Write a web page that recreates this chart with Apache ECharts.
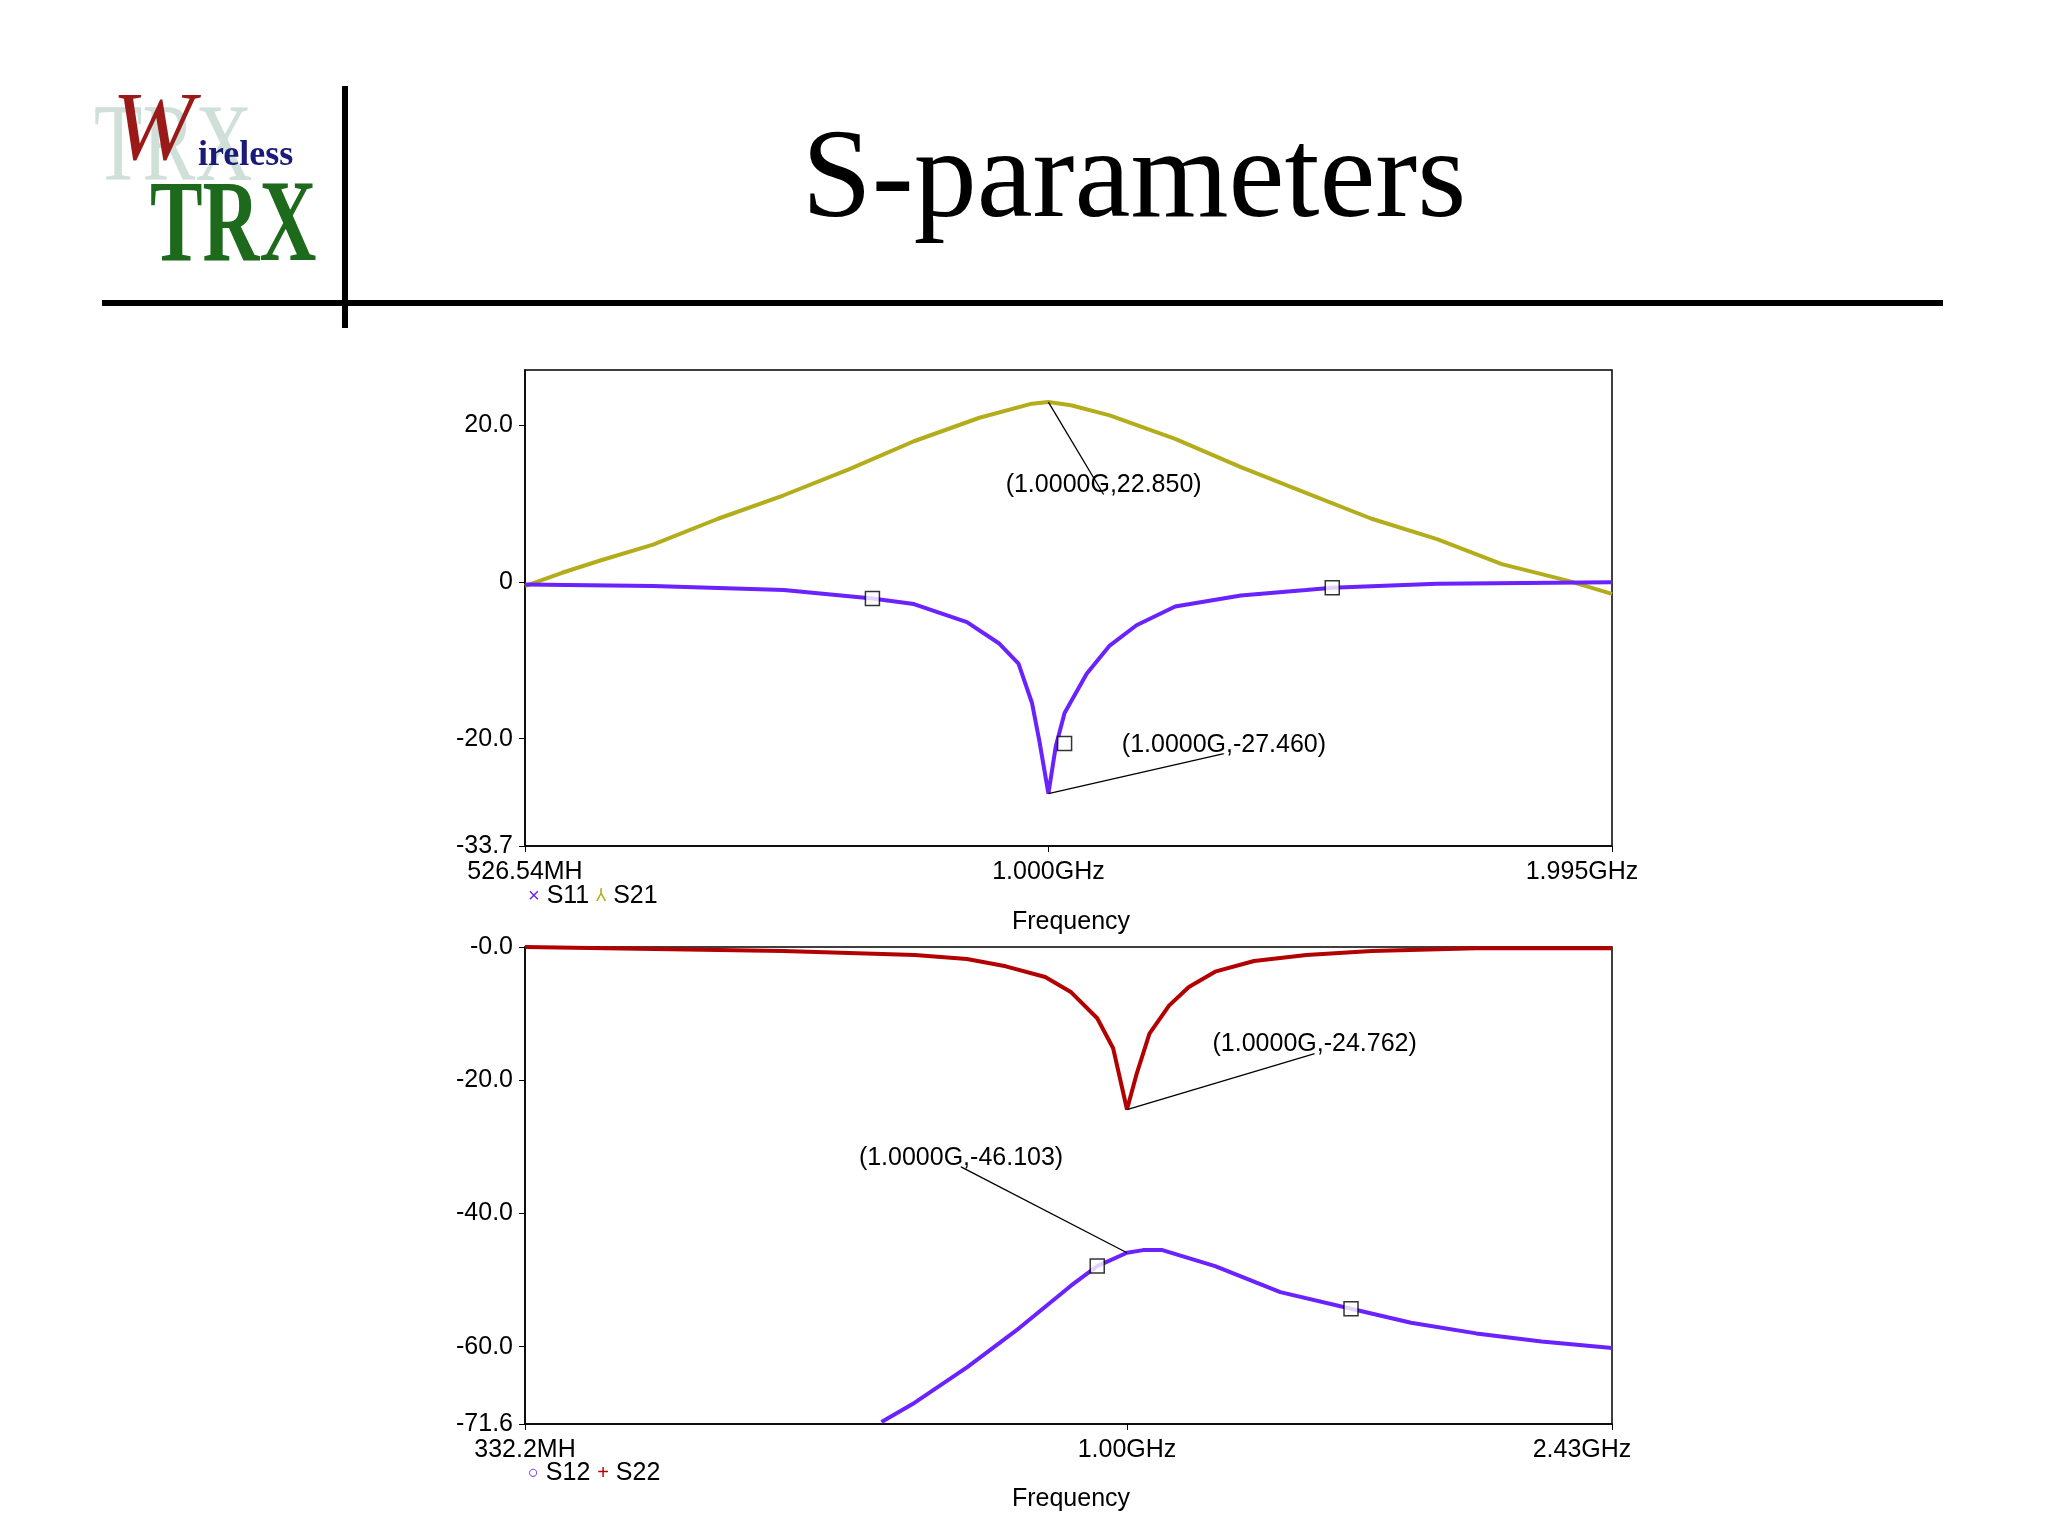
<!DOCTYPE html>
<html><head><meta charset="utf-8">
<script src="https://cdn.jsdelivr.net/npm/echarts@6/dist/echarts.min.js"></script>
<style>html,body{margin:0;background:#fff}#c{width:2048px;height:1536px}</style>
</head><body><div id="c"></div>
<script>
// Top plot (MHz, dB)
const topXTicks=[526.54,1000,1995], topXLabels=['526.54MH','1.000GHz','1.995GHz'];
const topYTicks=[-33.7,-20,0,20], topYLabels=['-33.7','-20.0','0','20.0'];
const s21=[[526.54,-0.5],[551,1.2],[578,2.8],[616,4.8],[667,8.1],[723,11.1],[783,14.4],[848,18],[919,21],[980,22.8],[1000,23],[1028,22.6],[1078,21.3],[1168,18.3],[1266,14.7],[1371,11.4],[1486,8.1],[1610,5.5],[1743,2.3],[1889,0.2],[1995,-1.5]];
const s11=[[526.54,-0.3],[616,-0.5],[723,-1],[806,-2.1],[848,-2.8],[905,-5.1],[941,-7.8],[964,-10.4],[980,-15.4],[989,-20.3],[1000,-27],[1009,-21],[1020,-16.7],[1048,-11.7],[1078,-8.1],[1114,-5.5],[1168,-3.1],[1266,-1.7],[1371,-1],[1416,-0.7],[1610,-0.2],[1995,0]];
const s11Markers=[[806,-2.1],[1020,-20.6],[1416,-0.7]];
// Bottom plot
const botXTicks=[332.2,1000,2430], botXLabels=['332.2MH','1.00GHz','2.43GHz'];
const botYTicks=[-71.6,-60,-40,-20,0], botYLabels=['-71.6','-60.0','-40.0','-20.0','-0.0'];
const s22=[[332.2,0],[533,-0.6],[678,-1.2],[746,-1.8],[801,-2.9],[861,-4.5],[903,-6.8],[947,-10.7],[975,-15.2],[1000,-24.4],[1018,-19],[1042,-13],[1080,-8.8],[1120,-6],[1175,-3.7],[1262,-2.1],[1389,-1.2],[1565,-0.6],[1895,-0.2],[2430,-0.2]];
const s12=[[638,-71.3],[678,-68.4],[746,-63.1],[821,-57.2],[903,-50.8],[947,-47.9],[1000,-45.9],[1030,-45.5],[1067,-45.5],[1175,-47.9],[1324,-51.8],[1507,-54.3],[1682,-56.4],[1895,-58],[2136,-59.2],[2430,-60.2]];
const s12Markers=[[947,-47.9],[1507,-54.3]];

const PURPLE='#6a22ff', OLIVE='#b3ad1c', RED='#b30000';
const font='Liberation Sans, Arial, sans-serif';
function xAxis(i,min,max,ticks,labels){return {type:'log',logBase:10,gridIndex:i,min,max,
  axisLine:{onZero:false,lineStyle:{color:'#000',width:1.5}},
  axisTick:{customValues:ticks,length:6,lineStyle:{color:'#000'}},
  axisLabel:{customValues:ticks,color:'#000',fontSize:25,fontFamily:font,margin:14,
    formatter:v=>{let k=ticks.findIndex(t=>Math.abs(t-v)/t<1e-3);return k>=0?(k==ticks.length-1?'{r|'+labels[k]+'}':labels[k]):'';},
    rich:{r:{fontSize:25,fontFamily:font,color:'#000',padding:[0,0,0,-60]}}},
  splitLine:{show:false}};}
function yAxis(i,min,max,ticks,labels){return {type:'value',gridIndex:i,min,max,
  axisLine:{lineStyle:{color:'#000',width:1.5}},
  axisTick:{customValues:ticks,length:6,lineStyle:{color:'#000'}},
  axisLabel:{customValues:ticks,color:'#000',fontSize:25,fontFamily:font,margin:12,
    formatter:v=>{let k=ticks.findIndex(t=>Math.abs(t-v)<1e-3);return k>=0?labels[k]:'';}},
  splitLine:{show:false}};}
function ann(xi,pt,anchor,text){return {type:'line',xAxisIndex:xi,yAxisIndex:xi,data:[],silent:true,
  markLine:{symbol:'none',silent:true,lineStyle:{color:'#000',width:1.3,type:'solid'},label:{show:false},
    data:[[{coord:pt},{coord:anchor}]]},
  markPoint:{symbol:'circle',symbolSize:1,data:[{coord:anchor}],
    label:{show:true,formatter:text,color:'#000',fontSize:25,fontFamily:font,position:'top',distance:-4}}};}
function markers(xi,data){return {type:'scatter',xAxisIndex:xi,yAxisIndex:xi,data,symbol:'rect',symbolSize:14,
  itemStyle:{color:'#fff',borderColor:'#000',borderWidth:1.5},z:5};}
const ch=echarts.init(document.getElementById('c'));
ch.setOption({backgroundColor:'#fff',animation:false,
 grid:[{left:525,right:436,top:370,height:476,show:true,borderColor:'#000',borderWidth:1.5},
       {left:525,right:436,top:947,height:477,show:true,borderColor:'#000',borderWidth:1.5}],
 xAxis:[xAxis(0,526.54,1995,topXTicks,topXLabels),xAxis(1,332.2,2430,botXTicks,botXLabels)],
 yAxis:[yAxis(0,-33.7,27.1,topYTicks,topYLabels),yAxis(1,-71.6,0,botYTicks,botYLabels)],
 series:[
  {type:'line',xAxisIndex:0,yAxisIndex:0,data:s21,showSymbol:false,lineStyle:{color:OLIVE,width:4}},
  {type:'line',xAxisIndex:0,yAxisIndex:0,data:s11,showSymbol:false,lineStyle:{color:PURPLE,width:4}},
  markers(0,s11Markers),
  ann(0,[1000,23],[1070,11.2],'(1.0000G,22.850)'),
  ann(0,[1000,-27],[1240,-21.9],'(1.0000G,-27.460)'),
  {type:'line',xAxisIndex:1,yAxisIndex:1,data:s22,showSymbol:false,lineStyle:{color:RED,width:4}},
  {type:'line',xAxisIndex:1,yAxisIndex:1,data:s12,showSymbol:false,lineStyle:{color:PURPLE,width:4}},
  markers(1,s12Markers),
  ann(1,[1000,-24.4],[1410,-16],'(1.0000G,-24.762)'),
  ann(1,[1000,-45.9],[738,-33],'(1.0000G,-46.103)')
 ],
 graphic:[
  {type:'rect',shape:{x:102,y:300,width:1841,height:6},style:{fill:'#000'}},
  {type:'rect',shape:{x:342,y:86,width:6,height:242},style:{fill:'#000'}},
  {type:'text',x:1134,y:183,style:{text:'S-parameters',font:'126px Liberation Serif',fill:'#000',align:'center',verticalAlign:'middle'}},
  {type:'text',x:94,y:96,scaleX:0.72,style:{text:'TRX',font:'110px Liberation Serif',fill:'#cfe0d8'}},
  {type:'text',x:112,y:84,style:{text:'W',font:'italic 98px Liberation Serif',fill:'#9a1a1a'}},
  {type:'text',x:198,y:138,style:{text:'ireless',font:'bold 36px Liberation Serif',fill:'#1a1a7a'}},
  {type:'text',x:150,y:172,scaleX:0.68,style:{text:'TRX',font:'bold 116px Liberation Serif',fill:'#1d6a1d'}},
  {type:'text',x:528,y:884,style:{text:'{p|×} S11 {o|⅄} S21',font:'25px '+font,fill:'#000',rich:{p:{fill:PURPLE,font:'20px '+font},o:{fill:OLIVE,font:'18px '+font}}}},
  {type:'text',x:1071,y:922,style:{text:'Frequency',font:'25px '+font,fill:'#000',align:'center',verticalAlign:'middle'}},
  {type:'text',x:528,y:1461,style:{text:'{p|○} S12 {r|+} S22',font:'25px '+font,fill:'#000',rich:{p:{fill:PURPLE,font:'18px '+font},r:{fill:RED,font:'20px '+font}}}},
  {type:'text',x:1071,y:1499,style:{text:'Frequency',font:'25px '+font,fill:'#000',align:'center',verticalAlign:'middle'}}
 ]});
</script></body></html>
